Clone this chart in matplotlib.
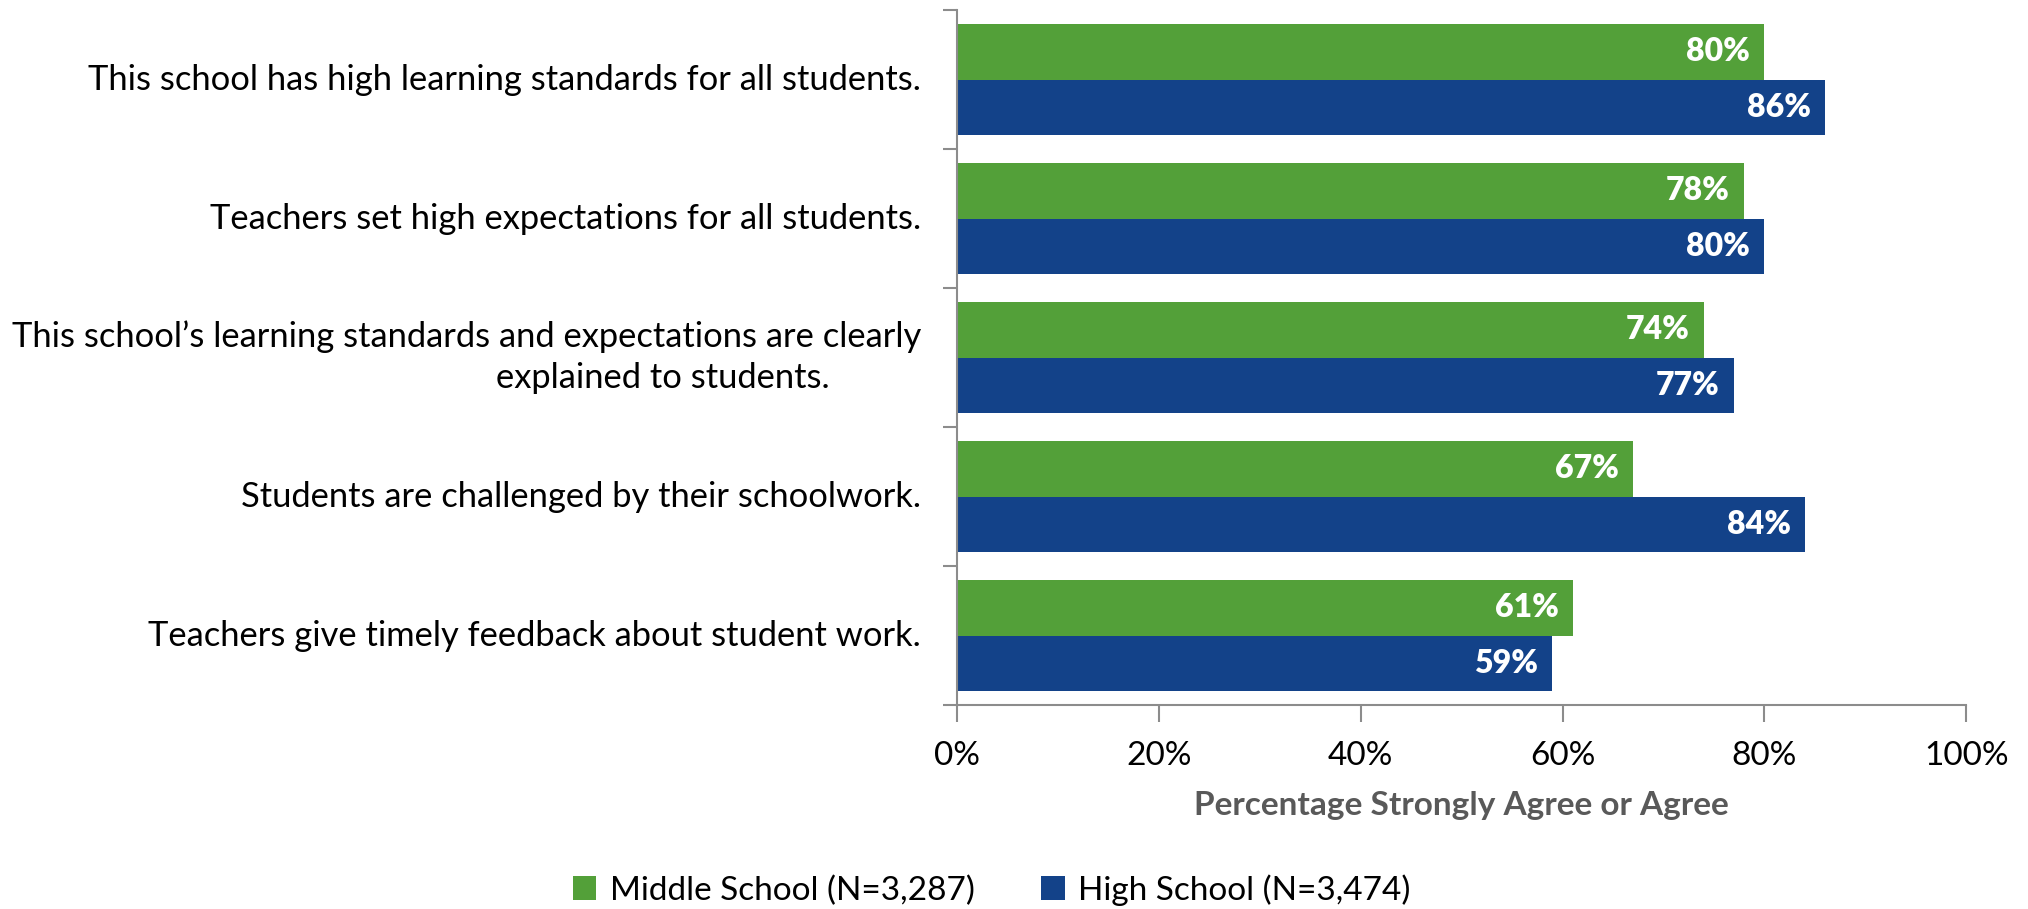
import numpy as np
import matplotlib
matplotlib.use('Agg')
import matplotlib.pyplot as plt
import matplotlib.transforms as mtransforms
from matplotlib.ticker import FixedLocator, PercentFormatter

plt.rcParams['font.family'] = ['Lato', 'DejaVu Sans']

categories = [
    'This school has high learning standards for all students.',
    'Teachers set high expectations for all students.',
    'This school\u2019s learning standards and expectations are clearly\nexplained to students.',
    'Students are challenged by their schoolwork.',
    'Teachers give timely feedback about student work.',
]
middle_school = [80, 78, 74, 67, 61]
high_school = [86, 80, 77, 84, 59]
series_names = ['Middle School (N=3,287)', 'High School (N=3,474)']

color_ms = '#53A039'
color_hs = '#134289'
axis_gray = '#8C8C8C'


def plot_data():
    fig = plt.figure(figsize=(20.28, 9.09), dpi=100)
    ax = fig.add_axes([0.472, 0.2244, 0.4975, 0.7646])

    n = len(categories)
    y = np.arange(n)
    h = 0.4
    b1 = ax.barh(y - h / 2, middle_school, height=h, color=color_ms, label=series_names[0])
    b2 = ax.barh(y + h / 2, high_school, height=h, color=color_hs, label=series_names[1])

    for bars, vals in ((b1, middle_school), (b2, high_school)):
        for bar, v in zip(bars, vals):
            ax.text(v - 1.4, bar.get_y() + bar.get_height() / 2, f'{v}%',
                    ha='right', va='center', color='white', fontsize=23, fontweight='heavy')

    ax.set_xlim(0, 100)
    ax.set_ylim(n - 0.5, -0.5)

    # category labels drawn by hand: wrapped lines in Excel style
    trans = mtransforms.blended_transform_factory(ax.transAxes, ax.transData)
    for yi, cat in zip(y, categories):
        lines = cat.split('\n')
        if len(lines) == 1:
            ax.text(-0.036, yi, cat, transform=trans, ha='right', va='center', fontsize=24.8)
        else:
            ax.annotate(lines[0], xy=(-0.036, yi), xycoords=trans, xytext=(0, 15),
                        textcoords='offset points', ha='right', va='center', fontsize=24.8)
            ax.annotate(lines[1], xy=(-0.292, yi), xycoords=trans, xytext=(0, -15),
                        textcoords='offset points', ha='center', va='center', fontsize=24.8)

    ax.set_yticks(y)
    ax.set_yticklabels([])
    ax.yaxis.set_minor_locator(FixedLocator(np.arange(-0.5, n, 1.0)))
    ax.tick_params(axis='y', which='major', length=0)
    ax.tick_params(axis='y', which='minor', length=10, width=1.5, color=axis_gray, direction='out')

    ax.set_xticks(np.arange(0, 101, 20))
    ax.xaxis.set_major_formatter(PercentFormatter(decimals=0))
    ax.tick_params(axis='x', length=12, width=1.5, color=axis_gray, labelsize=24, pad=14)

    for s in ('top', 'right'):
        ax.spines[s].set_visible(False)
    for s in ('left', 'bottom'):
        ax.spines[s].set_color(axis_gray)
        ax.spines[s].set_linewidth(1.5)

    ax.set_xlabel('Percentage Strongly Agree or Agree', fontsize=24, fontweight='bold',
                  color='#595959', labelpad=14)

    fig.legend(handles=[b1, b2], labels=series_names, loc='center',
               bbox_to_anchor=(0.489, 0.021), ncol=2, frameon=False, fontsize=24,
               handlelength=0.7, handleheight=0.7, handletextpad=0.4, columnspacing=2.0)

    fig.savefig('out.png', dpi=100)


if __name__ == '__main__':
    plot_data()
